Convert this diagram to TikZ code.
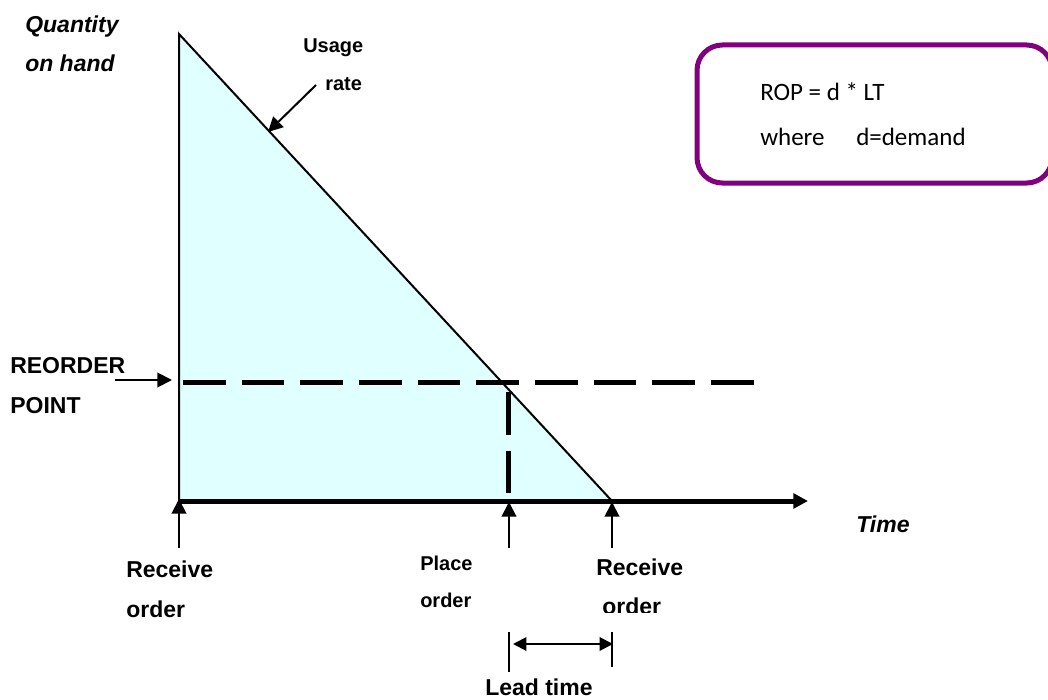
\documentclass[tikz,border=0pt]{standalone}
\usepackage{fontspec}
\setmainfont{Liberation Sans}
\newfontfamily\calfont{Carlito}
\usetikzlibrary{arrows.meta}
\definecolor{fillcyan}{RGB}{224,255,255}
\definecolor{boxpurple}{RGB}{128,0,128}
\begin{document}
\begin{tikzpicture}[x=0.75pt,y=-0.75pt,
  lbl/.style={anchor=base west,inner sep=0pt,font=\bfseries\fontsize{17.25}{20}\selectfont},
  lbli/.style={lbl,font=\bfseries\itshape\fontsize{17.25}{20}\selectfont},
  lbls/.style={anchor=base west,inner sep=0pt,font=\bfseries\fontsize{15}{18}\selectfont},
  roptext/.style={anchor=base west,inner sep=0pt,font=\calfont\fontsize{18.75}{22}\selectfont},
  ptr/.style={line width=1.5pt,-{Triangle[length=11pt,width=11pt]}},
  dashline/.style={line width=3.75pt,dash pattern=on 32pt off 12pt},
  tick/.style={line width=1.5pt}]
\clip (0,0) rectangle (1048,699);
% key points
\coordinate (top) at (179,34);
\coordinate (origin) at (179,501);
\coordinate (zero) at (612,501);
\coordinate (axend) at (808,501);
\coordinate (ropL) at (183,382);
\coordinate (ropR) at (757,382);
\coordinate (ropX) at (508,392);
\coordinate (ropXb) at (508,493);
% triangle
\fill[fillcyan] (top) -- (zero) -- (origin) -- cycle;
\draw[line width=1.5pt] (origin) -- (top) -- (zero);
% ROP dashed lines
\draw[dashline] (ropL) -- (ropR);
\draw[dashline] (ropX) -- (ropXb);
% time axis
\draw[line width=3.75pt,-{Triangle[length=11pt,width=11pt]}] (origin) -- (axend);
% labels
\node[lbli] (qty) at (25,33) {Quantity};
\node[lbli] (onhand) at (25,71) {on hand};
\node[lbls] (usage) at (303,53) {Usage};
\node[lbls] (rate) at (325,90) {rate};
\coordinate (usageS) at (316,85);
\coordinate (usageT) at (268,132);
\draw[ptr] (usageS) -- (usageT);
\node[lbl] (reorder) at (10,373) {REORDER};
\node[lbl] (point) at (10,413) {POINT};
\coordinate (reoS) at (115,380);
\coordinate (reoT) at (172,380);
\draw[ptr] (reoS) -- (reoT);
\node[lbli] (time) at (856,532) {Time};
% event arrows
\coordinate (recAs) at (179,548);
\coordinate (recAt) at (179,499);
\coordinate (plAs) at (509,548);
\coordinate (plAt) at (509,502);
\coordinate (rec2As) at (612,548);
\coordinate (rec2At) at (612,502);
\draw[ptr] (recAs) -- (recAt);
\draw[ptr] (plAs) -- (plAt);
\draw[ptr] (rec2As) -- (rec2At);
\node[lbl] (rec1) at (126,577) {Receive};
\node[lbl] (ord1) at (126,617) {order};
\node[lbls] (place) at (420,570) {Place};
\node[lbls] (ord2) at (420,607) {order};
\node[lbl] (rec2) at (596,575) {Receive};
\begin{scope}
\clip (580,585) rectangle (720,612);
\node[lbl] (ord3) at (602,614) {order};
\end{scope}
% lead time
\coordinate (t1a) at (509,632);
\coordinate (t1b) at (509,672);
\coordinate (t2a) at (612,632);
\coordinate (t2b) at (612,667);
\draw[tick] (t1a) -- (t1b);
\draw[tick] (t2a) -- (t2b);
\coordinate (ltL) at (513,644);
\coordinate (ltR) at (613,644);
\draw[line width=1.5pt,{Triangle[length=10pt,width=10pt]}-{Triangle[length=10pt,width=10pt]}] (ltL) -- (ltR);
\node[lbl] (lead) at (485,695) {Lead time};
% ROP box
\draw[boxpurple,line width=3.75pt,rounded corners=19pt] (697,45) rectangle (1052,183);
\node[roptext] (rop) at (760,100) {ROP = d * LT};
\node[roptext] (where) at (760,145) {where};
\node[roptext] (dem) at (856,145) {d=demand};
\end{tikzpicture}
\end{document}
